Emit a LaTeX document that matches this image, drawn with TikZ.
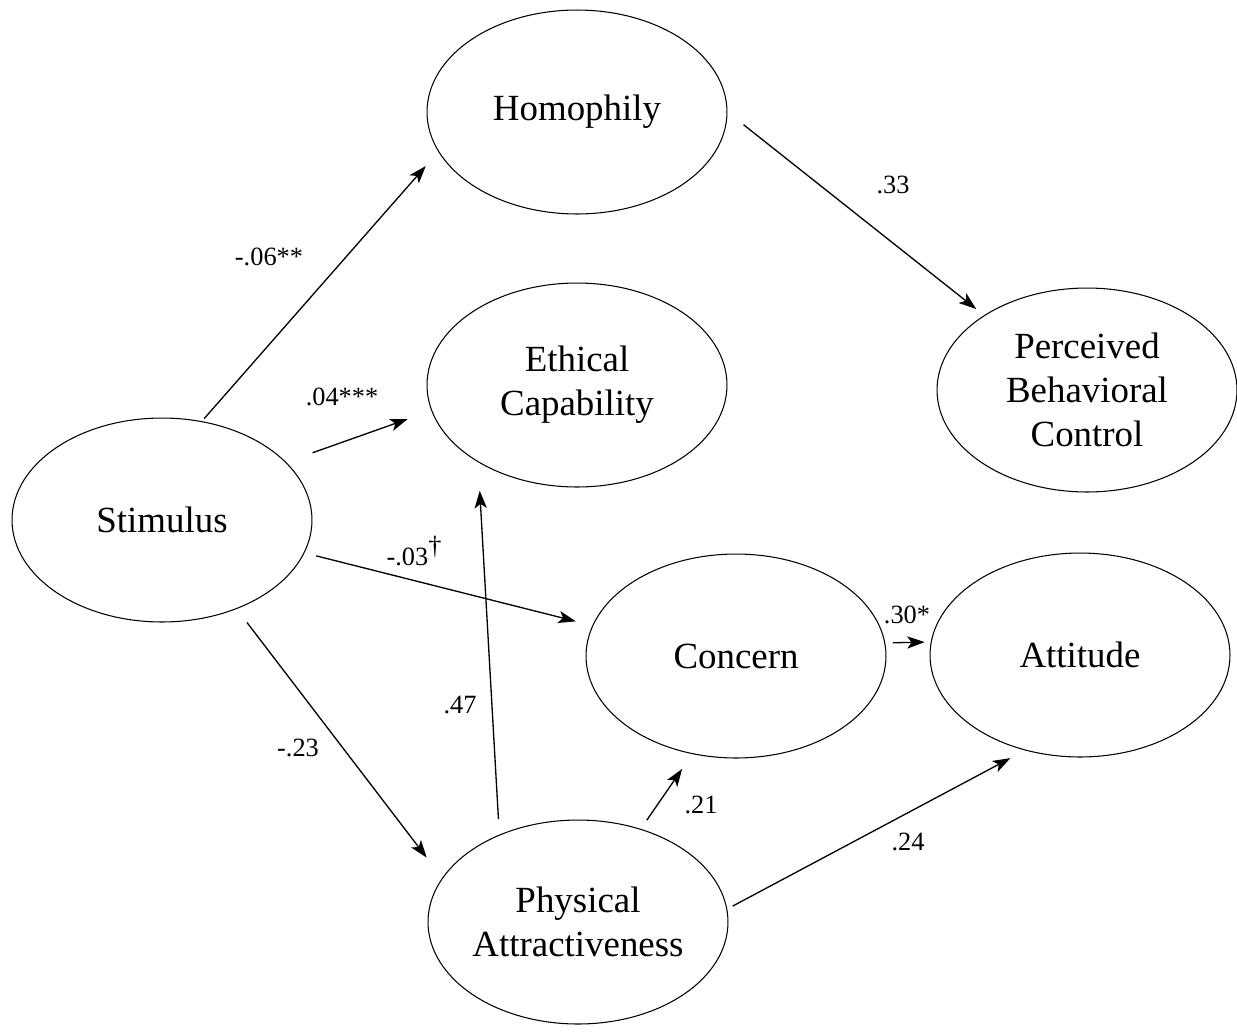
\documentclass[tikz,border=0pt]{standalone}
\usepackage{fontspec}
\setmainfont{Liberation Serif}
\usetikzlibrary{arrows.meta,shapes.geometric}

\begin{document}
\begin{tikzpicture}[x=0.02cm, y=-0.02cm,
  latent/.style={ellipse, draw, line width=0.6pt, inner sep=0pt,
    minimum width=6cm, minimum height=4.08cm, align=center,
    font=\fontsize{21}{25}\selectfont},
  effect/.style={-{Stealth[length=10pt, width=7pt, inset=2.5pt]}, line width=0.75pt},
  coef/.style={font=\fontsize{15}{18}\selectfont, inner sep=1pt}]

  \useasboundingbox (0,0) rectangle (1237,1032);

  % Latent variables
  \node[latent] (stim)    at (162,520)  {Stimulus};
  \node[latent] (homo)    at (577,112)  {Homophily};
  \node[latent] (ethic)   at (577,385)  {Ethical\\Capability};
  \node[latent] (phys)    at (578,922)  {Physical\\Attractiveness};
  \node[latent] (concern) at (736,656)  {Concern};
  \node[latent] (attit)   at (1080,655) {Attitude};
  \node[latent] (pbc)     at (1087,390) {Perceived\\Behavioral\\Control};

  % Paths
  \draw[effect, shorten <=0.07cm, shorten >=0.38cm] (stim.68)    -- (homo.196);
  \draw[effect, shorten <=0.56cm, shorten >=0.50cm] (stim.25)    -- (ethic.190);
  \draw[effect, shorten <=0.24cm, shorten >=0.34cm] (stim.-13)   -- (concern.168);
  \draw[effect, shorten <=0.34cm, shorten >=0.51cm] (stim.-50)   -- (phys.162);
  \draw[effect, shorten <=0.41cm, shorten >=0.20cm] (homo.0)     -- (pbc.144);
  \draw[effect, shorten <=0.31cm, shorten >=0.57cm] (phys.132)   -- (ethic.218);
  \draw[effect, shorten <=0.21cm, shorten >=0.36cm] (phys.56)    -- (concern.246);
  \draw[effect, shorten <=0.12cm, shorten >=0.33cm] (phys.5)     -- (attit.240);
  \draw[effect, shorten <=0.15cm, shorten >=0.12cm] (concern.5)  -- (attit.175);

  % Coefficients
  \node[coef] (c-homo)    at (269,257) {-.06**};
  \node[coef] (c-ethic)   at (342,397) {.04***};
  \node[coef] (c-concern) at (414,551) {-.03\raisebox{0.45em}{\dag}};
  \node[coef] (c-phys)    at (298,748) {-.23};
  \node[coef] (c-pbc)     at (893,185) {.33};
  \node[coef] (c-pe)      at (460,705) {.47};
  \node[coef] (c-pc)      at (701,805) {.21};
  \node[coef] (c-pa)      at (908,842) {.24};
  \node[coef] (c-ca)      at (907,615) {.30*};
\end{tikzpicture}
\end{document}
